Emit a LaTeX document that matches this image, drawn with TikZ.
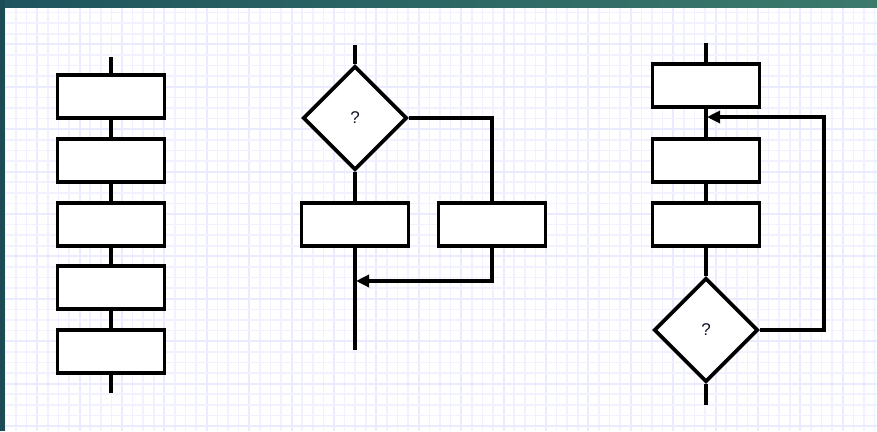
\documentclass[tikz,border=0pt]{standalone}
\usepackage{fontspec}
\setmainfont{Liberation Sans}
\usetikzlibrary{shapes.geometric,arrows.meta}
\definecolor{gridminor}{RGB}{241,241,255}
\definecolor{gridmajor}{RGB}{235,235,255}
\definecolor{barleft}{RGB}{30,84,94}
\definecolor{barright}{RGB}{60,122,108}
\definecolor{sidebar}{RGB}{27,76,86}
\definecolor{qtext}{RGB}{20,20,40}
\tikzset{
  procbox/.style={draw=black, line width=3.6pt, fill=white, rectangle, minimum width=107pt, minimum height=43pt, inner sep=0pt},
  decide/.style={draw=black, line width=3.6pt, fill=white, diamond, minimum width=104pt, minimum height=104pt, inner sep=0pt, text=qtext, font=\fontsize{17}{19}\selectfont},
  flow/.style={draw=black, line width=3.6pt},
  flowarrow/.style={flow, -{Triangle[length=13pt,width=12pt]}, shorten >=1pt},
}
\begin{document}
\begin{tikzpicture}[x=1pt,y=-1pt]
\useasboundingbox (0,0) rectangle (877,431);
\fill[white] (0,0) rectangle (877,431);
% grid
\foreach \i in {0,...,82} {
  \pgfmathsetmacro{\xx}{5.4+10.6*\i}
  \pgfmathtruncatemacro{\m}{mod(\i,4)}
  \ifnum\m=3
    \draw[gridmajor, line width=2pt] (\xx,7) -- (\xx,431);
  \else
    \draw[gridminor, line width=1.6pt] (\xx,7) -- (\xx,431);
  \fi
}
\foreach \j in {0,...,40} {
  \pgfmathsetmacro{\yy}{12.5+10.6*\j}
  \pgfmathtruncatemacro{\m}{mod(\j,4)}
  \ifnum\m=3
    \draw[gridmajor, line width=2pt] (5,\yy) -- (877,\yy);
  \else
    \draw[gridminor, line width=1.6pt] (5,\yy) -- (877,\yy);
  \fi
}
% frame bars
\shade[left color=barleft, right color=barright] (0,0) rectangle (877,7);
\fill[sidebar] (0,0) rectangle (5,431);

% ---- left: sequence ----
\coordinate (ltop) at (111,57);
\coordinate (lbot) at (111,393);
\node[procbox] (l1) at (111,96.5) {};
\node[procbox] (l2) at (111,160.5) {};
\node[procbox] (l3) at (111,224.5) {};
\node[procbox] (l4) at (111,287.5) {};
\node[procbox] (l5) at (111,351.5) {};
\draw[flow] (ltop) -- (l1.north);
\draw[flow] (l1.south) -- (l2.north);
\draw[flow] (l2.south) -- (l3.north);
\draw[flow] (l3.south) -- (l4.north);
\draw[flow] (l4.south) -- (l5.north);
\draw[flow] (l5.south) -- (lbot);

% ---- middle: selection ----
\coordinate (mtop) at (355,45);
\coordinate (mbot) at (355,350);
\coordinate (mjoin) at (355,281);
\node[decide] (md) at (355,118) {?};
\node[procbox] (ml) at (355,224.5) {};
\node[procbox] (mr) at (492,224.5) {};
\draw[flow] (mtop) -- (md.north);
\draw[flow] (md.south) -- (ml.north);
\draw[flow] (ml.south) -- (mbot);
\draw[flow] (md.east) -| (mr.north);
\draw[flowarrow] (mr.south) |- (mjoin);

% ---- right: loop ----
\coordinate (rtop) at (706,43);
\coordinate (rbot) at (706,405);
\coordinate (rjoin) at (706,117);
\node[procbox] (r1) at (706,85.5) {};
\node[procbox] (r2) at (706,160.5) {};
\node[procbox] (r3) at (706,224.5) {};
\node[decide] (rd) at (706,330) {?};
\draw[flow] (rtop) -- (r1.north);
\draw[flow] (r1.south) -- (r2.north);
\draw[flow] (r2.south) -- (r3.north);
\draw[flow] (r3.south) -- (rd.north);
\draw[flow] (rd.south) -- (rbot);
\draw[flowarrow] (rd.east) -- ++(64,0) |- (rjoin);
\end{tikzpicture}
\end{document}
